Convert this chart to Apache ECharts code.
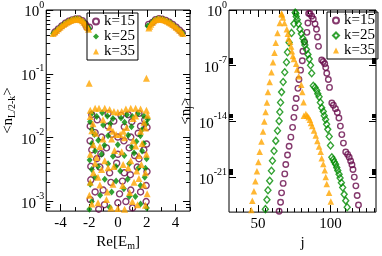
<!DOCTYPE html>
<html><head><meta charset="utf-8">
<script src="https://cdn.jsdelivr.net/npm/echarts@6/dist/echarts.min.js"></script>
<style>html,body{margin:0;padding:0;background:#fff}#c{width:382px;height:256px}</style>
</head><body><div id="c"></div>
<script>
const FONT = 'Liberation Serif';
const PURPLE = '#670748', GREEN = '#008b00', ORANGE = '#ffa500';
const seriesNames = ['k=15', 'k=25', 'k=35'];

// ---- tick labels ----
const leftXTicks = [-4, -2, 0, 2, 4];
const leftXMinor = [-5, -3, -1, 1, 3, 5];
const leftYTicks = [1e-3, 1e-2, 1e-1, 1];
const rightXTicks = [50, 100];
const rightXMinor = [35, 40, 45, 55, 60, 65, 70, 75, 80, 85, 90, 95, 105, 110, 115, 120, 125, 130];
const rightYTicks = [1, 1e-7, 1e-14, 1e-21];

// ---- left panel data: [Re(E_m), log10 <n_{L/2-k}>] ----
const leftK35 = [
 [-4.52,-0.37],[-4.40,-0.345],[-4.28,-0.32],[-4.16,-0.295],[-4.04,-0.27],[-3.92,-0.248],[-3.80,-0.227],[-3.68,-0.208],[-3.56,-0.192],[-3.44,-0.177],[-3.32,-0.164],[-3.20,-0.154],[-3.08,-0.146],[-2.96,-0.141],[-2.84,-0.139],[-2.72,-0.142],[-2.60,-0.151],[-2.48,-0.168],[-2.38,-0.19],[-2.28,-0.22],[-2.20,-0.25],[-2.12,-0.275],[-2.06,-0.30],
 [2.14,-0.28],[2.20,-0.255],[2.28,-0.225],[2.38,-0.195],[2.48,-0.17],[2.60,-0.152],[2.72,-0.142],[2.84,-0.138],[2.96,-0.14],[3.08,-0.145],[3.20,-0.153],[3.32,-0.163],[3.44,-0.176],[3.56,-0.19],[3.68,-0.207],[3.80,-0.226],[3.92,-0.247],[4.04,-0.27],[4.16,-0.294],[4.28,-0.318],[4.40,-0.344],[4.50,-0.37],
 [-2.01,-1.147],[1.97,-1.07],
 [-1.94,-1.57],[-1.60,-1.54],[-1.33,-1.54],[-0.93,-1.54],[-0.59,-1.56],[-0.29,-1.59],[-0.02,-1.60],[0.25,-1.59],[0.54,-1.55],[0.88,-1.54],[1.22,-1.54],[1.56,-1.55],[1.97,-1.57],[2.05,-1.65],
 [-1.94,-1.67],[1.22,-1.66],
 [-0.59,-1.84],[-0.36,-1.90],[-0.14,-1.95],[0.14,-1.95],[0.36,-1.90],[0.59,-1.84],
 [-1.83,-1.89],[-1.56,-1.93],[1.56,-1.90],[1.90,-1.85],
 [-1.72,-2.11],[-1.27,-2.14],[1.22,-2.13],[1.67,-2.09],
 [-1.94,-2.26],[-1.49,-2.31],[-0.93,-2.36],[0.88,-2.36],[1.45,-2.28],[1.97,-2.26],
 [-1.72,-2.55],[-1.15,-2.50],[-0.70,-2.47],[0.70,-2.47],[1.29,-2.52],[1.90,-2.55],
 [-1.94,-2.70],[-1.27,-2.74],[-0.36,-2.73],[0.32,-2.75],[1.11,-2.70],[1.79,-2.74],
 [-1.83,-3.04],[-0.81,-2.97],[-0.02,-3.11],[0.99,-3.00],[1.90,-3.06],
 [-1.05,-1.72],[1.05,-1.70],[-1.75,-1.78],[1.80,-1.76],[-0.45,-2.02],[0.45,-2.00],[-1.05,-2.02],[1.05,-2.05],[-0.25,-2.20],[0.25,-2.22],[-1.60,-2.40],[1.62,-2.42],
 [-0.30,-2.45],[0.35,-2.42],[-1.40,-2.62],[1.45,-2.64],[-0.75,-2.85],[0.80,-2.86],[-1.40,-3.02],[1.35,-3.05],[-2.00,-2.90],[2.02,-2.88],[0.45,-3.12],[-0.50,-3.10]
];
const leftK25 = [
 [-4.52,-0.37],[-4.28,-0.32],[-4.04,-0.27],[-3.80,-0.227],[-3.56,-0.192],[-3.32,-0.164],[-3.08,-0.146],[-2.84,-0.139],[-2.60,-0.151],[-2.38,-0.19],[-2.20,-0.25],[-2.02,-0.29],
 [2.05,-0.25],[2.26,-0.225],[2.46,-0.17],[2.70,-0.142],[2.94,-0.14],[3.18,-0.152],[3.42,-0.175],[3.66,-0.205],[3.90,-0.245],[4.14,-0.294],[4.38,-0.344],[4.50,-0.37],
 [-1.83,-1.62],[-1.49,-1.67],[-1.11,-1.61],[-0.75,-1.66],[-0.36,-1.70],[0.20,-1.69],[0.61,-1.64],[0.99,-1.67],[1.38,-1.62],[1.79,-1.66],[2.06,-1.71],
 [-1.83,-1.87],[-1.04,-1.80],[0.93,-1.83],[1.67,-1.87],
 [-1.83,-2.09],[-1.38,-2.04],[-0.02,-2.11],[1.27,-2.06],[1.79,-2.09],
 [-1.60,-2.21],[-1.15,-2.26],[-0.36,-2.29],[0.43,-2.28],[1.11,-2.24],[1.67,-2.21],
 [-1.83,-2.50],[-0.70,-2.41],[0.77,-2.41],[1.90,-2.48],
 [-1.94,-2.73],[-0.93,-2.65],[-0.14,-2.68],[0.66,-2.65],[1.56,-2.75],
 [-1.83,-3.00],[-0.59,-3.09],[0.77,-2.92],[1.56,-3.04],
 [-1.95,-1.75],[-0.55,-1.78],[0.45,-1.76],[1.95,-1.78],[-1.65,-1.95],[-0.70,-1.97],[0.70,-1.96],[1.55,-1.97],[-1.98,-2.35],[-0.95,-2.12],[0.95,-2.15],[1.98,-2.33],
 [-1.40,-2.45],[-0.15,-2.45],[0.15,-2.52],[1.40,-2.48],[-1.60,-2.62],[1.85,-2.62],[-0.45,-2.85],[0.40,-2.80],[-1.25,-2.90],[1.20,-2.92],[2.00,-3.10],[-2.00,-3.12]
];
const leftK15 = [
 [-4.40,-0.345],[-4.16,-0.295],[-3.92,-0.248],[-3.68,-0.208],[-3.44,-0.177],[-3.20,-0.154],[-2.96,-0.141],[-2.72,-0.142],[-2.48,-0.168],[-2.28,-0.22],[-2.17,-0.27],[-2.00,-0.27],
 [2.12,-0.225],[2.38,-0.195],[2.60,-0.152],[2.84,-0.138],[3.08,-0.145],[3.32,-0.163],[3.56,-0.19],[3.80,-0.226],[4.04,-0.27],[4.28,-0.318],[4.46,-0.36],
 [-1.83,-1.64],[-0.70,-1.62],[0.20,-1.65],[0.70,-1.64],[1.45,-1.62],
 [-1.94,-1.82],[-0.70,-1.82],[0.43,-1.83],[1.56,-1.82],[2.01,-1.84],
 [-1.15,-1.99],[-0.02,-1.99],[0.88,-1.99],
 [-1.83,-2.19],[-0.81,-2.16],[-0.02,-2.26],[0.77,-2.16],[1.79,-2.19],
 [-1.49,-2.33],[1.45,-2.33],
 [-1.27,-2.46],[-0.59,-2.55],[0.43,-2.55],[1.33,-2.46],[2.01,-2.53],
 [-1.60,-2.85],[-1.04,-2.82],[0.88,-2.82],[1.56,-2.85],
 [-0.02,-3.02],[0.54,-3.00],[-1.94,-2.97],
 [-1.45,-1.72],[-0.30,-1.74],[0.95,-1.75],[1.85,-1.72],[-1.60,-1.92],[-0.45,-1.95],[0.40,-2.05],[1.40,-1.93],[-1.95,-2.05],[-1.20,-2.25],[1.15,-2.28],[1.98,-2.10],
 [-1.90,-2.45],[-0.10,-2.40],[0.85,-2.58],[-1.90,-2.66],[-0.50,-2.70],[0.30,-2.68],[1.95,-2.75],[-0.95,-3.05],[1.00,-3.10],[1.95,-3.00],[-1.35,-3.12],[0.10,-2.88]
];

// ---- right panel data: [j, log10 <n_j>] ----
const rightK15 = [
 [85.0,-0.44],[84.5,-1.63],[83.8,-2.81],[82.2,-4.0],[81.0,-5.18],[80.6,-6.37],[79.4,-7.56],[78.3,-8.74],[77.6,-9.85],[76.4,-11.12],[75.7,-12.3],[74.8,-13.49],[73.9,-14.75],[72.7,-15.98],[71.5,-17.12],[70.4,-18.23],[69.2,-19.42],[68.5,-20.6],[67.4,-21.79],[66.3,-22.98],[65.6,-24.17],[64.6,-25.3],
 [85.9,-0.44],[87.1,-0.77],[88.2,-1.13],[89.4,-1.74],[90.4,-2.41],[91.1,-3.4],[91.8,-4.57],[94.0,-6.29],[95.1,-6.47],[96.1,-6.76],[96.8,-7.24],[97.5,-7.95],[98.6,-8.74],[99.4,-9.73],
 [101.0,-11.68],[102.1,-11.98],[103.5,-12.4],[104.8,-12.89],[105.9,-13.58],[106.9,-14.59],[107.9,-15.66],[109.0,-16.73],[110.6,-17.85],[111.9,-18.15],[113.0,-18.5],[114.0,-18.98],[114.9,-19.45],[115.6,-20.05],[116.5,-21.0],[117.6,-22.1],[118.5,-23.31],[119.4,-24.5]
];
const rightK25 = [
 [76.2,-0.44],[74.8,-1.74],[73.2,-2.88],[71.5,-4.07],[70.4,-5.3],[69.7,-6.56],[68.5,-7.83],[67.4,-9.05],[66.3,-10.32],[65.6,-11.63],[65.1,-12.81],[64.6,-13.96],[63.5,-15.18],[62.3,-16.45],[61.1,-17.71],[60.0,-18.94],[59.3,-20.2],[58.1,-21.47],[56.9,-22.66],[56.2,-23.84],[55.1,-25.03],
 [75.7,-0.32],[76.4,-0.83],[77.1,-1.22],[77.9,-1.72],[79.0,-2.41],[80.0,-3.0],[81.0,-3.56],[81.9,-4.0],[82.4,-4.39],[83.5,-4.98],[84.5,-5.58],[85.4,-6.17],[86.3,-6.94],[87.1,-7.95],
 [88.2,-9.53],[89.4,-9.73],[90.6,-10.12],[91.3,-10.52],[92.2,-10.91],[93.1,-11.63],[94.0,-12.3],[95.1,-12.75],[95.8,-13.29],[96.7,-13.76],[97.4,-14.35],[98.2,-15.0],[99.2,-15.9],[100.1,-17.02],
 [101.0,-18.5],[101.9,-18.8],[102.7,-19.1],[103.6,-19.4],[104.4,-19.81],[105.1,-20.17],[106.0,-20.64],[106.7,-21.12],[107.6,-21.71],[108.5,-22.3],[109.5,-23.17],[110.6,-23.96],[111.6,-24.79]
];
const rightK35 = [
 [66.3,-0.44],[65.1,-1.63],[63.5,-2.88],[62.3,-4.12],[61.4,-5.37],[60.4,-6.56],[59.3,-7.83],[58.1,-9.05],[56.9,-10.32],[56.2,-11.63],[55.3,-12.81],[54.4,-14.0],[53.5,-15.27],[52.4,-16.52],[51.2,-17.83],[50.3,-19.1],[49.3,-20.28],[48.2,-21.51],[47.2,-22.78],[46.1,-23.96],[45.4,-25.15],
 [66.5,-0.56],[67.2,-0.95],[68.3,-1.63],[69.9,-2.41],[70.6,-3.0],[71.1,-3.59],[72.2,-4.0],[72.9,-4.59],[73.4,-5.18],[74.1,-5.78],[74.8,-6.17],[76.4,-6.76],[77.1,-7.47],[78.1,-8.34],[79.9,-9.41],[80.6,-10.32],[81.5,-11.59],
 [81.7,-13.29],[83.1,-13.08],[84.0,-13.29],[85.0,-13.49],[85.9,-13.8],[86.6,-14.2],[87.5,-14.59],[88.7,-15.15],[89.9,-15.78],[91.0,-16.45],[92.2,-17.16],[93.3,-17.83],[94.0,-18.62],[95.1,-19.34],[96.1,-20.13],[96.8,-21.0],[97.5,-21.87],[99.1,-22.98],[100.3,-24.08]
];

const toPts = arr => arr.map(p => [p[0], Math.pow(10, p[1])]);

const leftYMinor = [];
[1e-4, 1e-3, 1e-2, 1e-1].forEach(d => { for (let m = 2; m <= 9; m++) { const v = m * d; if (v > 7.1e-4 && v < 1) leftYMinor.push(v); } });
const rightYMinor = [];
[1e-7, 1e-14, 1e-21].forEach(d => { for (let m = 2; m <= 9; m++) rightYMinor.push(m * d); });

const L_YMIN = Math.pow(10, -3.15), R_YMIN = Math.pow(10, -25.4);
const R_XMIN = 30, R_XMAX = 131.5;

const txt = { fontFamily: FONT, color: '#000' };
const supRich = {
  b: { fontFamily: FONT, fontSize: 15, color: '#000', padding: [5, 0, 0, 0] },
  s: { fontFamily: FONT, fontSize: 10, color: '#000', verticalAlign: 'top' }
};
const powFmt = v => '{b|10}{s|' + Math.round(Math.log10(v)) + '}';
const subRich = { sub: { fontFamily: FONT, fontSize: 10, color: '#000', verticalAlign: 'bottom', padding: [7, 0, 0, 0] } };

function tickAxis(type, gridIndex, position, min, max, ticks, len) {
  return {
    type, gridIndex, position, min, max,
    axisLine: { show: false, onZero: false },
    axisTick: { show: true, inside: true, length: len, customValues: ticks, lineStyle: { color: '#000', width: 1 } },
    axisLabel: { show: false },
    splitLine: { show: false }
  };
}

const xAxes = [
  Object.assign(tickAxis('value', 0, 'bottom', -5, 5, leftXTicks, 7), {
    name: 'Re[E{sub|m}]', nameLocation: 'middle', nameGap: 17,
    nameTextStyle: Object.assign({ fontSize: 15, rich: subRich }, txt),
    axisLabel: Object.assign({ show: true, customValues: leftXTicks, margin: 4, fontSize: 15 }, txt)
  }),
  tickAxis('value', 0, 'bottom', -5, 5, leftXMinor, 4),
  tickAxis('value', 0, 'top', -5, 5, leftXTicks, 7),
  tickAxis('value', 0, 'top', -5, 5, leftXMinor, 4),
  Object.assign(tickAxis('value', 1, 'bottom', R_XMIN, R_XMAX, rightXTicks, 7), {
    name: 'j', nameLocation: 'middle', nameGap: 17,
    nameTextStyle: Object.assign({ fontSize: 15 }, txt),
    axisLabel: Object.assign({ show: true, customValues: rightXTicks, margin: 4, fontSize: 15 }, txt)
  }),
  tickAxis('value', 1, 'bottom', R_XMIN, R_XMAX, rightXMinor, 4),
  tickAxis('value', 1, 'top', R_XMIN, R_XMAX, rightXTicks, 7),
  tickAxis('value', 1, 'top', R_XMIN, R_XMAX, rightXMinor, 4)
];
const yAxes = [
  Object.assign(tickAxis('log', 0, 'left', L_YMIN, 1, leftYTicks, 7), {
    logBase: 10,
    name: '<n{sub|L/2-k}>', nameLocation: 'middle', nameGap: 28,
    nameTextStyle: Object.assign({ fontSize: 15, rich: subRich }, txt),
    axisLabel: { show: true, customValues: leftYTicks, margin: 2, formatter: powFmt, rich: supRich }
  }),
  Object.assign(tickAxis('log', 0, 'left', L_YMIN, 1, leftYMinor, 4), { logBase: 10 }),
  Object.assign(tickAxis('log', 0, 'right', L_YMIN, 1, leftYTicks, 7), { logBase: 10 }),
  Object.assign(tickAxis('log', 0, 'right', L_YMIN, 1, leftYMinor, 4), { logBase: 10 }),
  Object.assign(tickAxis('log', 1, 'left', R_YMIN, 1, rightYTicks, 7), {
    logBase: 10,
    name: '<n{sub|j}>', nameLocation: 'middle', nameGap: 28,
    nameTextStyle: Object.assign({ fontSize: 15, rich: subRich }, txt),
    axisLabel: { show: true, customValues: rightYTicks, margin: 2, formatter: powFmt, rich: supRich }
  }),
  Object.assign(tickAxis('log', 1, 'left', R_YMIN, 1, rightYMinor, 4), { logBase: 10 }),
  Object.assign(tickAxis('log', 1, 'right', R_YMIN, 1, rightYTicks, 7), { logBase: 10 }),
  Object.assign(tickAxis('log', 1, 'right', R_YMIN, 1, rightYMinor, 4), { logBase: 10 })
];

const hollow = c => ({ color: 'rgba(255,255,255,0)', borderColor: c, borderWidth: 1.4 });
const series = [
  { name: 'L ' + seriesNames[0], type: 'scatter', xAxisIndex: 0, yAxisIndex: 0, data: toPts(leftK15), symbol: 'circle', symbolSize: 6, itemStyle: hollow(PURPLE) },
  { name: 'L ' + seriesNames[1], type: 'scatter', xAxisIndex: 0, yAxisIndex: 0, data: toPts(leftK25), symbol: 'diamond', symbolSize: [6, 7], itemStyle: { color: GREEN } },
  { name: 'L ' + seriesNames[2], type: 'scatter', xAxisIndex: 0, yAxisIndex: 0, data: toPts(leftK35), symbol: 'triangle', symbolSize: 7, itemStyle: { color: ORANGE } },
  { name: 'R ' + seriesNames[0], type: 'scatter', xAxisIndex: 4, yAxisIndex: 4, data: toPts(rightK15), symbol: 'circle', symbolSize: 5.5, itemStyle: hollow(PURPLE) },
  { name: 'R ' + seriesNames[1], type: 'scatter', xAxisIndex: 4, yAxisIndex: 4, data: toPts(rightK25), symbol: 'diamond', symbolSize: [6, 7], itemStyle: hollow(GREEN) },
  { name: 'R ' + seriesNames[2], type: 'scatter', xAxisIndex: 4, yAxisIndex: 4, data: toPts(rightK35), symbol: 'triangle', symbolSize: 6.5, itemStyle: { color: ORANGE } }
];

const legendBase = {
  orient: 'vertical', borderColor: '#000', borderWidth: 1, borderRadius: 0,
  padding: [1, 3, 1, 5], itemGap: 0, itemWidth: 6, itemHeight: 6,
  formatter: n => n.slice(2), selectedMode: false,
  textStyle: { fontFamily: FONT, fontSize: 15, color: '#000', lineHeight: 14 }
};

const chart = echarts.init(document.getElementById('c'), null, { renderer: 'canvas' });
chart.setOption({
  animation: false,
  backgroundColor: '#fff',
  grid: [
    { left: 43, top: 8, width: 147, height: 214, show: true, borderColor: '#000', borderWidth: 1, backgroundColor: 'transparent' },
    { left: 229, top: 8, width: 147, height: 214, show: true, borderColor: '#000', borderWidth: 1, backgroundColor: 'transparent' }
  ],
  legend: [
    Object.assign({}, legendBase, { left: 87, top: 13, data: seriesNames.map(n => 'L ' + n) }),
    Object.assign({}, legendBase, { left: 327, top: 12, data: seriesNames.map(n => 'R ' + n) })
  ],
  xAxis: xAxes,
  yAxis: yAxes,
  series: series
});
</script></body></html>
